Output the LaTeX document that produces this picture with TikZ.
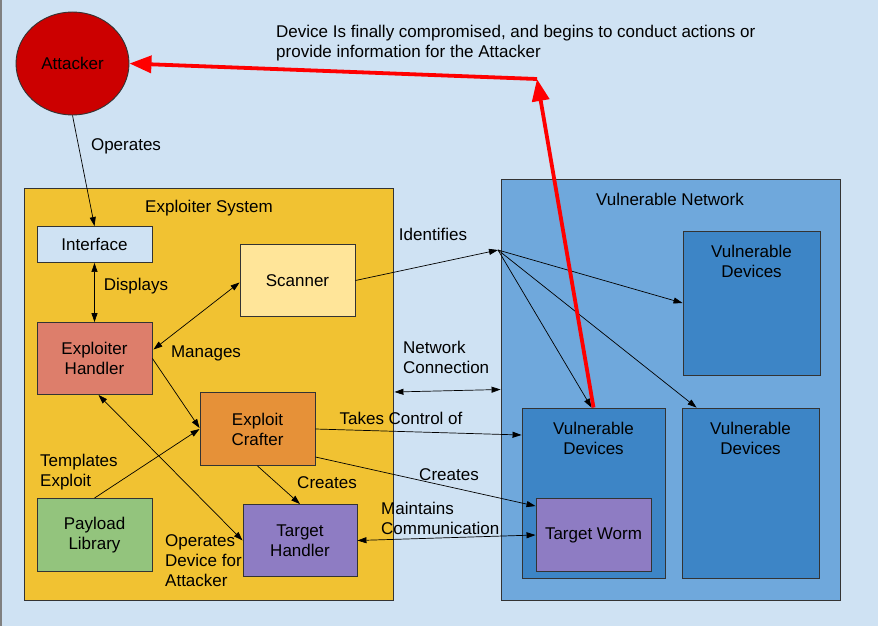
\documentclass[tikz,border=0pt]{standalone}
\usepackage{fontspec}
\setmainfont{Liberation Sans}
\usetikzlibrary{shapes.geometric,arrows.meta,calc}
\definecolor{bg}{HTML}{CFE2F3}
\definecolor{bordc}{HTML}{333333}
\definecolor{attred}{HTML}{CC0000}
\definecolor{sysyel}{HTML}{F1C232}
\definecolor{scanyel}{HTML}{FFE599}
\definecolor{ehred}{HTML}{DD7E6B}
\definecolor{ecorange}{HTML}{E69138}
\definecolor{plgreen}{HTML}{93C47D}
\definecolor{purp}{HTML}{8E7CC3}
\definecolor{netblue}{HTML}{6FA8DC}
\definecolor{devblue}{HTML}{3D85C6}
\definecolor{redline}{HTML}{FF0000}
\begin{document}
\begin{tikzpicture}[x=1pt,y=-1pt,font=\fontsize{17}{20}\selectfont,
  box/.style={draw=bordc,line width=0.9pt,align=center,inner sep=2pt},
  lbl/.style={align=center,inner sep=0pt},
  lbll/.style={align=left,inner sep=0pt,anchor=west},
  arr/.style={-{Triangle[length=9pt,width=6pt]},line width=0.7pt},
  darr/.style={{Triangle[length=9pt,width=6pt]}-{Triangle[length=9pt,width=6pt]},line width=0.7pt},
  redarr/.style={draw=redline,line width=3.8pt,-{Triangle[length=22pt,width=17pt]}}]
\useasboundingbox (0,0) rectangle (878,626);
\fill[bg] (0,0) rectangle (878,626);
\draw[gray,line width=1.5pt] (0.75,0) -- (0.75,626);

% containers
\node[box,fill=sysyel,minimum width=369pt,minimum height=412pt] (esys) at (208.5,394) {};
\node[lbl] (esyst) at (209,208) {Exploiter System};
\node[box,fill=netblue,minimum width=339pt,minimum height=421pt] (vnet) at (670.5,389.5) {};
\node[lbl] (vnett) at (670,199) {Vulnerable Network};

% attacker
\node[box,ellipse,fill=attred,minimum width=113pt,minimum height=103pt,inner sep=0pt] (att) at (72.5,63.5) {Attacker};

% exploiter system boxes
\node[box,fill=bg,minimum width=115pt,minimum height=36pt] (iface) at (94.5,244.5) {Interface};
\node[box,fill=scanyel,minimum width=115pt,minimum height=72pt] (sc) at (297.5,280.5) {Scanner};
\node[box,fill=ehred,minimum width=115pt,minimum height=72pt] (eh) at (94.5,358.5) {Exploiter\\Handler};
\node[box,fill=ecorange,minimum width=115pt,minimum height=73pt] (ec) at (257.5,429) {Exploit\\Crafter};
\node[box,fill=plgreen,minimum width=115pt,minimum height=73pt] (pl) at (94.5,535) {Payload\\Library};
\node[box,fill=purp,minimum width=114pt,minimum height=72pt] (th) at (300,540.5) {Target\\Handler};

% vulnerable network boxes
\node[box,fill=devblue,minimum width=137pt,minimum height=144pt] (vd1) at (751.5,303) {};
\node[lbl] (vd1t) at (751.5,261) {Vulnerable\\Devices};
\node[box,fill=devblue,minimum width=143pt,minimum height=170pt] (vd2) at (593.5,493) {};
\node[lbl] (vd2t) at (593.5,438) {Vulnerable\\Devices};
\node[box,fill=devblue,minimum width=137pt,minimum height=170pt] (vd3) at (750.5,493) {};
\node[lbl] (vd3t) at (750.5,438) {Vulnerable\\Devices};
\node[box,fill=purp,minimum width=115pt,minimum height=73pt] (tw) at (593.5,535) {Target Worm};

\coordinate (idp) at (498,250);
\coordinate (rc) at (537,79);

% connectors
\draw[arr] (att.south) -- (iface.north);
\draw[darr] (iface.south) -- (eh.north);
\draw[darr] ($(eh.east)+(1,-9)$) -- ($(sc.west)+(0,2)$);
\draw[arr] (sc.east) -- (idp);
\draw[arr] (idp) -- (vd1.west);
\draw[arr] (idp) -- ($(vd2.north)+(-2,0)$);
\draw[arr] (idp) -- ($(vd3.north west)+(15,0)$);
\draw[arr] (eh.east) -- ($(ec.west)+(0,-1)$);
\draw[darr] ($(eh.south)+(4,0)$) -- (th.west);
\draw[arr] (pl.north) -- (ec.west);
\draw[arr] (ec.south) -- (th.north);
\draw[arr] (ec.east) -- ($(vd2.west)+(0,-58)$);
\draw[arr] ($(ec.east)+(0,28)$) -- ($(tw.north west)+(0,8)$);
\draw[darr] (th.east) -- (tw.west);
\draw[darr] ($(esys.east)+(1,-2)$) -- (vnet.west);

% red compromise path
\draw[redarr] (vd2.north) -- (rc);
\draw[redarr] (rc) -- (att.east);

% labels
\node[lbl] (lop) at (126,146) {Operates};
\node[lbl] (ldisp) at (136,286) {Displays};
\node[lbl] (lman) at (206,353) {Manages};
\node[lbl] (lid) at (433,234) {Identifies};
\node[lbll] (lnet) at (403,357) {Network\\Connection};
\node[lbl] (ltake) at (401,418) {Takes Control of};
\node[lbl] (lcr1) at (327,483) {Creates};
\node[lbl] (lcr2) at (449,475) {Creates};
\node[lbll] (lmain) at (381,518) {Maintains\\Communication};
\node[lbll] (ltemp) at (40,472) {Templates\\Exploit};
\node[lbll] (lopd) at (165,561) {Operates\\Device for\\Attacker};
\node[lbll] (ltop) at (276,43.5) {Device Is finally compromised, and begins to conduct actions or\\provide information for the Attacker};
\end{tikzpicture}
\end{document}
